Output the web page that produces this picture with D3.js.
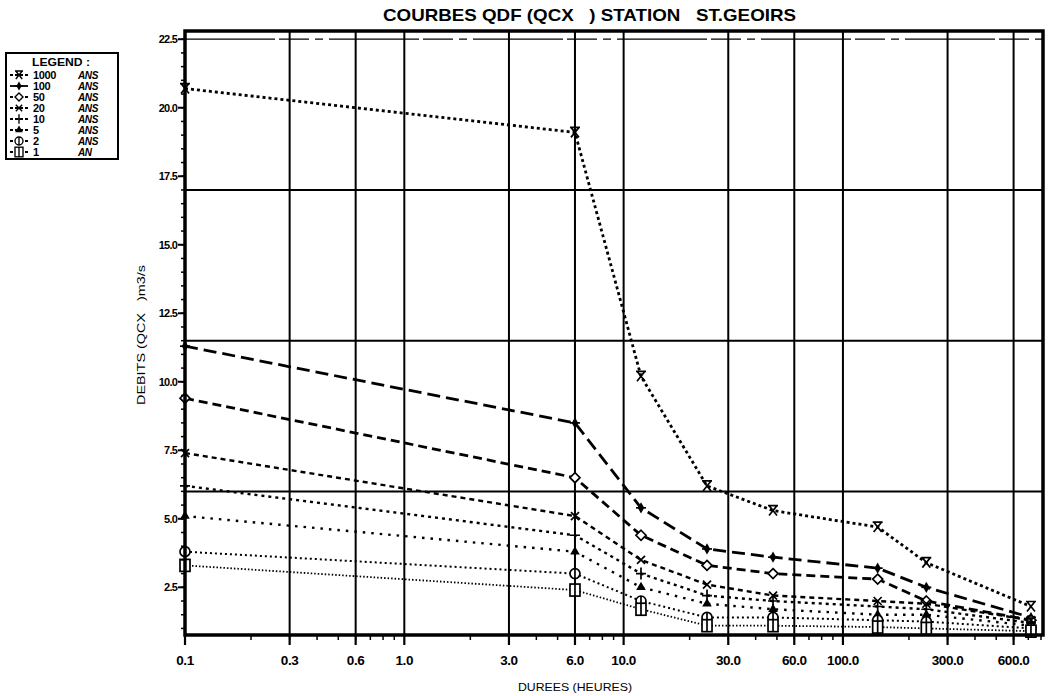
<!DOCTYPE html>
<html>
<head>
<meta charset="utf-8">
<script src="https://cdn.jsdelivr.net/npm/d3@7"></script>
<style>
  body { margin: 0; background: #fff; }
  text { font-family: "Liberation Sans", Arial, sans-serif; font-weight: bold; fill: #000; }
</style>
</head>
<body>
<svg id="chart" width="1052" height="696"></svg>
<script>
// durations (hours) of each computed point
const durees = [0.1, 6, 12, 24, 48, 144, 240, 720];

// return periods, as they appear in the legend
const periodes = ["1000", "100", "50", "20", "10", "5", "2", "1"];
const unites = ["ANS", "ANS", "ANS", "ANS", "ANS", "ANS", "ANS", "AN"];

// discharge values (m3/s), one array per return period
const q1000 = [20.7, 19.1, 10.2, 6.2, 5.3, 4.7, 3.4, 1.8];
const q100 = [11.3, 8.5, 5.4, 3.9, 3.6, 3.2, 2.5, 1.4];
const q50 = [9.4, 6.5, 4.4, 3.3, 3.0, 2.8, 2.0, 1.3];
const q20 = [7.4, 5.1, 3.5, 2.6, 2.2, 2.0, 1.9, 1.3];
const q10 = [6.2, 4.4, 3.0, 2.2, 2.0, 1.8, 1.7, 1.2];
const q5 = [5.1, 3.8, 2.5, 1.9, 1.7, 1.5, 1.5, 1.1];
const q2 = [3.8, 3.0, 2.0, 1.4, 1.4, 1.3, 1.25, 1.0];
const q1 = [3.3, 2.4, 1.7, 1.1, 1.1, 1.05, 1.0, 0.9];

const series = [q1000, q100, q50, q20, q10, q5, q2, q1];

// axis ticks
const xTicks = [0.1, 0.3, 0.6, 1, 3, 6, 10, 30, 60, 100, 300, 600];
const yTicks = [2.5, 5, 7.5, 10, 12.5, 15, 17.5, 20, 22.5];
const hGrid = [6, 11.5, 17, 22.5];

const svg = d3.select("#chart");
const pLeft = 185, pRight = 1043, pTop = 31, pBottom = 635;

const x = d3.scaleLog().domain([0.1, 817]).range([pLeft, pRight]);
const y = d3.scaleLinear().domain([0.76, 22.8]).range([pBottom, pTop]);

// line styles per series
const styles = [
  { dash: "3,3", width: 2.8, mark: "sablier" },
  { dash: "13,6", width: 2.8, mark: "fleche" },
  { dash: "9,5", width: 2.8, mark: "losange" },
  { dash: "5,4", width: 2.4, mark: "croix" },
  { dash: "3,4", width: 2.4, mark: "plus" },
  { dash: "2.5,6", width: 2.4, mark: "triangle" },
  { dash: "2,3", width: 2, mark: "cercle" },
  { dash: "1.5,2", width: 1.8, mark: "carre" }
];

const drawMark = (g, kind) => {
  const st = { stroke: "#000", "stroke-width": 1.7, fill: "none" };
  const add = (tag) => {
    const e = g.append(tag);
    Object.keys(st).forEach(k => e.attr(k, st[k]));
    return e;
  };
  if (kind === "sablier") {
    add("path").attr("d", "M-5,-5H5M-4,-5L4,5M4,-5L-4,5");
  } else if (kind === "fleche") {
    g.append("path").attr("d", d3.symbol(d3.symbolDiamond, 36)()).attr("fill", "#000");
    add("path").attr("d", "M-5,0H5");
  } else if (kind === "losange") {
    add("path").attr("d", "M0,-5L5,0L0,5L-5,0Z").attr("fill", "#fff");
  } else if (kind === "croix") {
    add("path").attr("d", "M-4,-4L4,4M-4,4L4,-4");
  } else if (kind === "plus") {
    add("path").attr("d", "M-5,0H5M0,-6V6");
  } else if (kind === "triangle") {
    g.append("path").attr("d", d3.symbol(d3.symbolTriangle, 40)()).attr("fill", "#000");
  } else if (kind === "cercle") {
    add("circle").attr("r", 5).attr("fill", "#fff");
    add("path").attr("d", "M0,-5V5");
  } else if (kind === "carre") {
    add("rect").attr("x", -5).attr("y", -6).attr("width", 10).attr("height", 12).attr("fill", "#fff");
    add("path").attr("d", "M0,-6V6");
  }
};

// grid
const grid = svg.append("g");
grid.selectAll("line.v")
  .data(xTicks.slice(1))
  .enter()
  .append("line")
  .attr("x1", d => x(d)).attr("x2", d => x(d))
  .attr("y1", pTop).attr("y2", pBottom)
  .attr("stroke", "#000").attr("stroke-width", 2);
grid.selectAll("line.h")
  .data(hGrid)
  .enter()
  .append("line")
  .attr("x1", pLeft).attr("x2", pRight)
  .attr("y1", d => y(d)).attr("y2", d => y(d))
  .attr("stroke", "#000")
  .attr("stroke-width", d => (d === 22.5 ? 1.2 : 2))
  .attr("stroke-dasharray", d => (d === 22.5 ? "90,4,30,6,8,6" : null));

// series lines and markers
const line = d3.line().x((d, i) => x(durees[i])).y(d => y(d));
series.forEach((s, k) => {
  svg.append("path")
    .datum(s)
    .attr("d", line)
    .attr("fill", "none")
    .attr("stroke", "#000")
    .attr("stroke-width", styles[k].width)
    .attr("stroke-dasharray", styles[k].dash);
  s.forEach((v, i) => {
    const g = svg.append("g").attr("transform", "translate(" + x(durees[i]) + "," + y(v) + ")");
    drawMark(g, styles[k].mark);
  });
});

// frame
svg.append("rect")
  .attr("x", pLeft).attr("y", pTop)
  .attr("width", pRight - pLeft).attr("height", pBottom - pTop)
  .attr("fill", "none").attr("stroke", "#000").attr("stroke-width", 3.5);

// y axis
const yMinor = d3.range(1, 22.8, 0.5);
svg.selectAll("line.ym")
  .data(yMinor)
  .enter()
  .append("line")
  .attr("x1", pLeft - 4).attr("x2", pLeft)
  .attr("y1", d => y(d)).attr("y2", d => y(d))
  .attr("stroke", "#000").attr("stroke-width", 1.5);
svg.selectAll("line.yM")
  .data(yTicks)
  .enter()
  .append("line")
  .attr("x1", pLeft - 7).attr("x2", pLeft)
  .attr("y1", d => y(d)).attr("y2", d => y(d))
  .attr("stroke", "#000").attr("stroke-width", 2);
svg.selectAll("text.yl")
  .data(yTicks)
  .enter()
  .append("text")
  .attr("x", pLeft - 8)
  .attr("y", d => y(d) + 4)
  .attr("text-anchor", "end")
  .attr("font-size", 11)
  .attr("letter-spacing", -0.8)
  .text(d => d3.format(".1f")(d));

// x axis
const xMinor = [];
[0.1, 1, 10, 100].forEach(dec => {
  for (let m = 2; m <= 9; m++) {
    if (dec * m < 817) xMinor.push(dec * m);
  }
});
svg.selectAll("line.xm")
  .data(xMinor)
  .enter()
  .append("line")
  .attr("x1", d => x(d)).attr("x2", d => x(d))
  .attr("y1", pBottom).attr("y2", pBottom + 5)
  .attr("stroke", "#000").attr("stroke-width", 1.5);
svg.selectAll("line.xM")
  .data(xTicks)
  .enter()
  .append("line")
  .attr("x1", d => x(d)).attr("x2", d => x(d))
  .attr("y1", pBottom).attr("y2", pBottom + 10)
  .attr("stroke", "#000").attr("stroke-width", 2.2);
svg.selectAll("text.xl")
  .data(xTicks)
  .enter()
  .append("text")
  .attr("x", d => x(d))
  .attr("y", pBottom + 30)
  .attr("text-anchor", "middle")
  .attr("font-size", 13.5)
  .attr("letter-spacing", -0.4)
  .text(d => d3.format(".1f")(d));

// titles
svg.append("text")
  .attr("x", 383).attr("y", 21)
  .attr("font-size", 17)
  .attr("textLength", 413)
  .attr("lengthAdjust", "spacingAndGlyphs")
  .attr("xml:space", "preserve")
  .text("COURBES QDF (QCX   ) STATION   ST.GEOIRS");
svg.append("text")
  .attr("x", 518).attr("y", 691)
  .attr("font-size", 10.5)
  .style("font-weight", "normal")
  .attr("textLength", 114)
  .attr("lengthAdjust", "spacingAndGlyphs")
  .text("DUREES (HEURES)");
svg.append("text")
  .attr("transform", "translate(145,405) rotate(-90)")
  .attr("font-size", 11)
  .style("font-weight", "normal")
  .attr("textLength", 140)
  .attr("lengthAdjust", "spacingAndGlyphs")
  .attr("xml:space", "preserve")
  .text("DEBITS (QCX   )m3/s");

// legend
const leg = svg.append("g");
leg.append("rect")
  .attr("x", 6).attr("y", 53).attr("width", 112).attr("height", 106)
  .attr("fill", "none").attr("stroke", "#000").attr("stroke-width", 2);
leg.append("text")
  .attr("x", 32).attr("y", 66)
  .attr("font-size", 10.5)
  .attr("textLength", 58)
  .attr("lengthAdjust", "spacingAndGlyphs")
  .text("LEGEND :");
periodes.forEach((p, k) => {
  const ly = 75 + k * 11;
  leg.append("line")
    .attr("x1", 10).attr("x2", 28)
    .attr("y1", ly).attr("y2", ly)
    .attr("stroke", "#000")
    .attr("stroke-width", 1.8)
    .attr("stroke-dasharray", k === 1 ? null : "3,2");
  const g = leg.append("g").attr("transform", "translate(19," + ly + ") scale(0.8)");
  drawMark(g, styles[k].mark);
  leg.append("text")
    .attr("x", 33).attr("y", ly + 4)
    .attr("font-size", 11)
    .attr("letter-spacing", -0.4)
    .text(p);
  leg.append("text")
    .attr("x", 78).attr("y", ly + 4)
    .attr("font-size", 10)
    .attr("font-style", "italic")
    .attr("letter-spacing", -0.4)
    .text(unites[k]);
});
</script>
</body>
</html>
